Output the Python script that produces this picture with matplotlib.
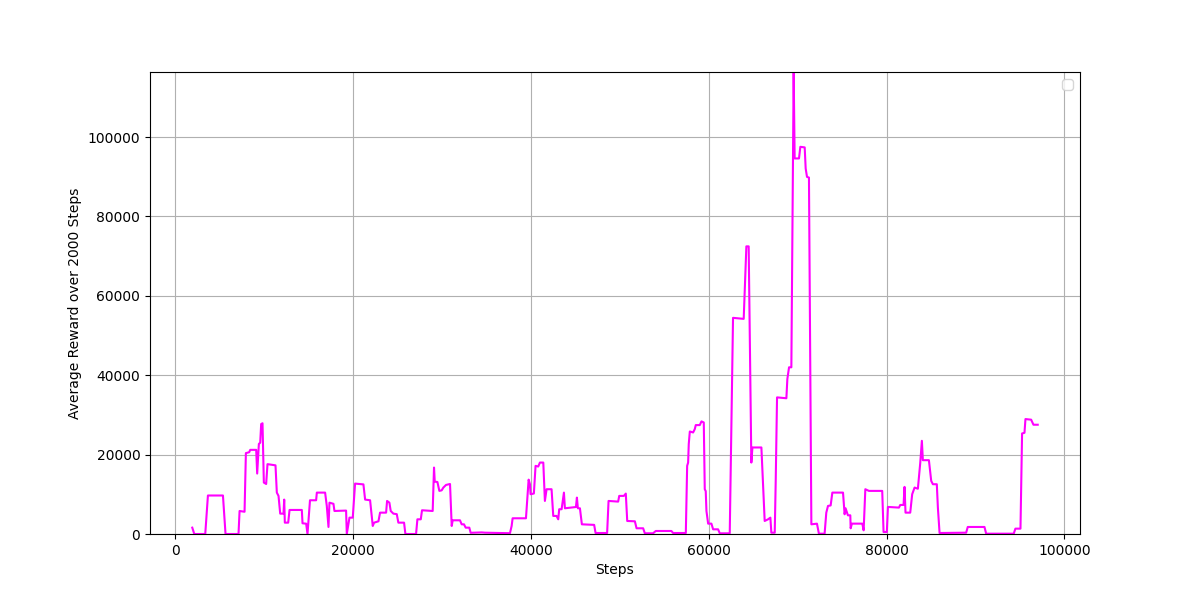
import matplotlib
matplotlib.use('Agg')
import matplotlib.pyplot as plt

matplotlib.rcParams['figure.figsize'] = (12.0, 6.0)
matplotlib.rcParams['figure.dpi'] = 100
matplotlib.rcParams['savefig.dpi'] = 100

steps = [1910, 2135, 3370, 3670, 5360, 5650, 7110, 7230, 7790, 7940,
         8310, 8430, 9100, 9210, 9400, 9550, 9660, 9810, 9960, 10220,
         10370, 11270, 11420, 11610, 11800, 12170, 12250, 12320, 12700, 12850,
         14230, 14310, 14720, 14870, 15150, 15840, 15920, 16850, 17040, 17230,
         17340, 17790, 17900, 19210, 19290, 19590, 19960, 20220, 21160, 21350,
         21910, 22210, 22360, 22850, 23030, 23710, 23820, 24080, 24230, 24530,
         24910, 25090, 25730, 25880, 27080, 27230, 27610, 27750, 28950, 29100,
         29180, 29480, 29700, 29960, 30150, 30450, 30900, 31090, 31200, 32020,
         32210, 32470, 32660, 33070, 33220, 34460, 34830, 37640, 37830, 37940,
         39440, 39630, 39740, 39890, 39960, 40330, 40520, 40820, 41010, 41390,
         41570, 41760, 42320, 42510, 42880, 43070, 43180, 43450, 43710, 43820,
         45060, 45170, 45280, 45510, 45730, 47110, 47270, 48570, 48730, 49810,
         49930, 50450, 50670, 50830, 51690, 51880, 52620, 52810, 53740, 54040,
         55800, 55990, 57420, 57570, 57680, 57750, 57870, 58240, 58430, 58540,
         58990, 59180, 59440, 59550, 59660, 59740, 59930, 60300, 60490, 61050,
         61240, 62360, 62730, 63930, 64230, 64490, 64790, 64910, 65060, 65920,
         66290, 66670, 66930, 67040, 67420, 67530, 67680, 68730, 68840, 69030,
         69290, 69550, 69660, 70150, 70300, 70790, 70900, 71050, 71270, 71540,
         72170, 72390, 73030, 73220, 73410, 73710, 73900, 75100, 75280, 75390,
         75650, 75920, 75960, 76100, 77270, 77420, 77610, 78010, 79510, 79660,
         80030, 80150, 81390, 81540, 81910, 82020, 82130, 82660, 82880, 83150,
         83520, 83790, 83970, 84080, 84760, 85020, 85210, 85650, 85770, 85960,
         88950, 89130, 91010, 91200, 94300, 94490, 95060, 95240, 95510, 95620,
         96260, 96520, 97000]

avg_reward = [1600, 0, 0, 9700, 9700, 0, 0, 5800, 5600, 20380,
              20600, 21200, 21200, 15230, 22700, 23000, 27700, 27900, 12960, 12600,
              17600, 17300, 10430, 9600, 5130, 5130, 8670, 2860, 2860, 6060,
              6060, 2700, 2600, 0, 8500, 8500, 10430, 10430, 7070, 1770,
              7900, 7600, 5800, 5900, 0, 4120, 4120, 12700, 12500, 8670,
              8500, 2020, 2860, 3200, 5380, 5380, 8330, 7900, 5800, 5130,
              5000, 2860, 2860, 0, 0, 3700, 3700, 5980, 5800, 16740,
              13200, 13100, 10860, 11000, 11700, 12360, 12600, 2020, 3450, 3450,
              2440, 2440, 1600, 1600, 300, 400, 330, 200, 2020, 3960,
              3960, 10020, 13700, 12540, 10020, 10200, 17170, 17000, 18000, 18000,
              8330, 11280, 11280, 4550, 4550, 3700, 6240, 6240, 10430, 6480,
              6800, 9170, 6480, 6480, 2440, 2300, 250, 250, 8330, 8160,
              9600, 9600, 10180, 3280, 3200, 1440, 1440, 180, 180, 760,
              760, 250, 250, 17170, 18000, 22650, 25830, 25580, 26430, 27440,
              27440, 28370, 28100, 11280, 10800, 5800, 2610, 2610, 1180, 1180,
              170, 170, 54460, 54200, 72470, 72470, 18000, 21800, 21800, 21800,
              3280, 3700, 4120, 330, 330, 13210, 34420, 34200, 39060, 42000,
              42000, 116400, 94620, 94620, 97550, 97400, 92090, 89980, 89800, 2440,
              2600, 80, 80, 5380, 7070, 7200, 10430, 10430, 4970, 6480,
              4710, 4710, 1440, 2610, 2610, 930, 11280, 10860, 10860, 500,
              500, 6820, 6650, 7320, 7320, 11870, 5380, 5380, 10020, 11700,
              11400, 18000, 23480, 18600, 18600, 13380, 12540, 12540, 6650, 250,
              330, 1770, 1770, 80, 80, 1350, 1350, 25330, 25500, 28960,
              28800, 27530, 27530]

fig, ax = plt.subplots()
ax.plot(steps, avg_reward, color='magenta')
ax.set_xlabel('Steps')
ax.set_ylabel('Average Reward over 2000 Steps')
ax.set_ylim(0, max(avg_reward))
ax.grid(True)
ax.legend()
plt.savefig('out.png')
